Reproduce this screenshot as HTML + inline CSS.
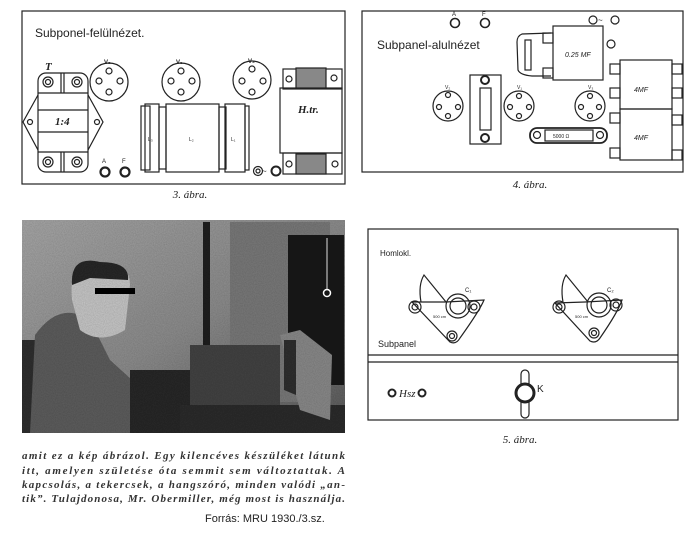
<!DOCTYPE html>
<html><head><meta charset="utf-8"><style>
html,body{margin:0;padding:0;background:#fff;}
svg{display:block;}
.hand{font-family:"Liberation Sans",sans-serif;}
.cap{font-family:"Liberation Serif",serif;font-style:italic;font-size:11px;}
</style></head><body>
<svg width="700" height="534" viewBox="0 0 700 534" xmlns="http://www.w3.org/2000/svg">
<defs>
<linearGradient id="wall" x1="0" y1="0" x2="1" y2="1">
<stop offset="0" stop-color="#a8a8a8"/><stop offset="0.5" stop-color="#8e8e8e"/><stop offset="1" stop-color="#5a5a5a"/>
</linearGradient>
<filter id="grain" x="0" y="0" width="100%" height="100%">
<feTurbulence type="fractalNoise" baseFrequency="0.9" numOctaves="2" seed="3" result="n"/>
<feColorMatrix in="n" type="matrix" values="0 0 0 0 0  0 0 0 0 0  0 0 0 0 0  0 0 0 0.35 0" result="g"/>
<feComposite in="g" in2="SourceGraphic" operator="in" result="gg"/>
<feMerge><feMergeNode in="SourceGraphic"/><feMergeNode in="gg"/></feMerge>
</filter>
</defs>
<g fill="none" stroke="#222" stroke-width="1.2">
<!-- FIG 3 -->
<rect x="22" y="11" width="323" height="173"/>
<polygon points="38,95 23,122 38,150 88,150 103,122 88,95"/>
<rect x="38" y="73" width="50" height="99" rx="8" fill="#fff"/>
<line x1="38" y1="93" x2="88" y2="93"/><line x1="38" y1="110" x2="88" y2="110"/>
<line x1="38" y1="132" x2="88" y2="132"/><line x1="38" y1="152" x2="88" y2="152"/>
<line x1="61" y1="73" x2="61" y2="93"/><line x1="64" y1="73" x2="64" y2="93"/>
<line x1="61" y1="152" x2="61" y2="172"/><line x1="64" y1="152" x2="64" y2="172"/>
<circle cx="48" cy="82" r="5"/><circle cx="48" cy="82" r="2.5"/>
<circle cx="77" cy="82" r="5"/><circle cx="77" cy="82" r="2.5"/>
<circle cx="48" cy="162" r="5"/><circle cx="48" cy="162" r="2.5"/>
<circle cx="77" cy="162" r="5"/><circle cx="77" cy="162" r="2.5"/>
<circle cx="30" cy="122" r="2.5"/><circle cx="97" cy="122" r="2.5"/>
<circle cx="109" cy="82" r="19"/><circle cx="109" cy="71" r="3"/><circle cx="99" cy="81" r="3"/><circle cx="120" cy="81" r="3"/><circle cx="109" cy="92" r="3"/>
<circle cx="181" cy="82" r="19"/><circle cx="181" cy="71" r="3"/><circle cx="171" cy="81" r="3"/><circle cx="192" cy="81" r="3"/><circle cx="181" cy="92" r="3"/>
<circle cx="252" cy="80" r="19"/><circle cx="252" cy="69" r="3"/><circle cx="242" cy="81" r="3"/><circle cx="263" cy="81" r="3"/><circle cx="252" cy="92" r="3"/>
<rect x="141" y="106" width="9" height="64"/><rect x="145" y="104" width="14" height="68"/>
<rect x="159" y="107" width="7" height="62"/>
<rect x="166" y="104" width="53" height="68"/>
<rect x="219" y="107" width="7" height="62"/><rect x="225" y="104" width="20" height="68"/><rect x="245" y="106" width="4" height="64"/>
<rect x="283" y="69" width="59" height="20"/>
<rect x="280" y="88" width="62" height="65"/>
<rect x="283" y="153" width="59" height="21"/>
<rect x="296" y="68" width="30" height="20" fill="#888"/>
<rect x="296" y="154" width="30" height="20" fill="#888"/>
<circle cx="289" cy="79" r="3"/><circle cx="334" cy="78" r="3"/><circle cx="289" cy="164" r="3"/><circle cx="335" cy="164" r="3"/>
<circle cx="105" cy="172" r="4.5" stroke-width="2.2"/><circle cx="125" cy="172" r="4.5" stroke-width="2.2"/>
<circle cx="258" cy="171" r="4.5"/><circle cx="258" cy="171" r="2"/><circle cx="276" cy="171" r="4.5" stroke-width="2"/>

<!-- FIG 4 -->
<rect x="362" y="11" width="321" height="161"/>
<circle cx="455" cy="23" r="4.5" stroke-width="1.6"/><circle cx="485" cy="23" r="4.5" stroke-width="1.6"/>
<circle cx="593" cy="20" r="4"/><circle cx="615" cy="20" r="4"/>
<rect x="553" y="26" width="50" height="54"/>
<path d="M551,33 L522,34 Q517,36 517,42 L518,70 Q520,75 532,76 L551,76"/>
<rect x="525" y="40" width="6" height="30"/>
<rect x="543" y="33" width="10" height="10"/><rect x="543" y="68" width="10" height="10"/>
<circle cx="611" cy="44" r="4"/>
<rect x="620" y="60" width="52" height="49"/><rect x="620" y="109" width="52" height="51"/>
<rect x="610" y="64" width="10" height="10"/><rect x="610" y="88" width="10" height="10"/><rect x="610" y="113" width="10" height="10"/><rect x="610" y="148" width="10" height="10"/>
<rect x="672" y="64" width="10" height="10"/><rect x="672" y="88" width="10" height="10"/><rect x="672" y="115" width="10" height="10"/><rect x="672" y="150" width="10" height="10"/>
<circle cx="448" cy="106" r="15"/><circle cx="448" cy="95" r="2.5"/><circle cx="439" cy="107" r="2.5"/><circle cx="458" cy="107" r="2.5"/><circle cx="448" cy="116" r="2.5"/>
<rect x="470" y="75" width="31" height="69"/>
<rect x="480" y="88" width="11" height="42"/><circle cx="485" cy="80" r="4" stroke-width="2"/><circle cx="485" cy="138" r="4" stroke-width="2"/>
<circle cx="519" cy="106" r="15"/><circle cx="519" cy="96" r="2.5"/><circle cx="510" cy="107" r="2.5"/><circle cx="529" cy="107" r="2.5"/><circle cx="519" cy="116" r="2.5"/>
<circle cx="590" cy="106" r="15"/><circle cx="590" cy="96" r="2.5"/><circle cx="581" cy="107" r="2.5"/><circle cx="599" cy="107" r="2.5"/><circle cx="590" cy="116" r="2.5"/>
<rect x="530" y="128" width="77" height="15" rx="7" stroke-width="1.8"/>
<rect x="545" y="130" width="48" height="11"/><circle cx="537" cy="135" r="3.5"/><circle cx="600" cy="135" r="3.5"/>

<!-- FIG 5 -->
<rect x="368" y="229" width="310" height="191"/>
<line x1="368" y1="355" x2="678" y2="355"/><line x1="368" y1="362" x2="678" y2="362"/>
<path d="M412,302 L446,302 L484,300 Q480,310 460,338 Q456,345 450,342 Z"/>
<path d="M421,302 Q418,285 424,275 L446,302"/>
<circle cx="415" cy="307" r="6"/><circle cx="415" cy="307" r="3"/>
<circle cx="474" cy="307" r="6"/><circle cx="474" cy="307" r="3"/>
<circle cx="458" cy="306" r="12"/><circle cx="458" cy="306" r="8"/>
<circle cx="452" cy="336" r="5"/><circle cx="452" cy="336" r="2.5"/>
<path d="M555,303 L585,302 L622,300 Q618,312 600,338 Q596,344 590,341 Z"/>
<path d="M563,302 Q560,285 566,275 L588,302"/>
<circle cx="559" cy="307" r="6"/><circle cx="559" cy="307" r="3"/>
<circle cx="616" cy="305" r="6"/><circle cx="616" cy="305" r="3"/>
<circle cx="599" cy="305" r="12"/><circle cx="599" cy="305" r="8"/>
<circle cx="594" cy="333" r="5"/><circle cx="594" cy="333" r="2.5"/>
<circle cx="392" cy="393" r="3.5" stroke-width="2"/><circle cx="422" cy="393" r="3.5" stroke-width="2"/>
<rect x="521" y="370" width="8" height="48" rx="4"/>
<circle cx="525" cy="393" r="9" stroke-width="3" fill="#fff"/>
</g>
<!-- photo -->
<g filter="url(#grain)">
<rect x="22" y="220" width="323" height="213" fill="url(#wall)"/>
<rect x="230" y="222" width="100" height="180" fill="#7a7a7a"/>
<rect x="288" y="235" width="56" height="150" fill="#1e1e1e"/>
<rect x="203" y="222" width="7" height="170" fill="#222"/>
<rect x="22" y="340" width="30" height="93" fill="#333"/>
<path d="M30,433 L35,335 Q60,300 90,320 L110,360 L165,410 L180,433 Z" fill="#5e5e5e"/>
<path d="M72,300 Q68,255 100,262 Q130,262 130,285 L125,330 Q100,345 80,330 Z" fill="#c8c8c8"/>
<path d="M72,285 Q70,255 100,262 Q130,262 128,280 L90,278 Z" fill="#2a2a2a"/>
<rect x="95" y="288" width="40" height="6" fill="#111"/>
<rect x="130" y="370" width="100" height="63" fill="#2a2a2a"/>
<rect x="190" y="345" width="90" height="60" fill="#444"/>
<rect x="180" y="405" width="165" height="28" fill="#2e2e2e"/>
<path d="M280,335 L300,330 L332,355 L330,420 L300,410 Z" fill="#8a8a8a"/>
<path d="M284,340 L296,340 L296,395 L284,390 Z" fill="#333"/>
</g>
<circle cx="327" cy="293" r="3.5" fill="none" stroke="#fff" stroke-width="1.5"/>
<line x1="327" y1="238" x2="327" y2="289" stroke="#ddd"/>
<!-- text -->
<g fill="#222">
<text x="35" y="37" class="hand" font-size="12">Subponel-felülnézet.</text>
<text x="45" y="70" class="cap" font-weight="bold" font-size="10">T</text>
<text x="104" y="64" class="hand" font-size="6" font-weight="bold">V₂</text>
<text x="176" y="64" class="hand" font-size="6" font-weight="bold">V₁</text>
<text x="248" y="63" class="hand" font-size="6" font-weight="bold">V₃</text>
<text x="55" y="125" class="cap" font-weight="bold" font-size="9">1:4</text>
<text x="148" y="141" class="hand" font-size="5">L₃</text>
<text x="189" y="141" class="hand" font-size="5">L₂</text>
<text x="231" y="141" class="hand" font-size="5">L₁</text>
<text x="298" y="113" class="cap" font-weight="bold" font-size="9">H.tr.</text>
<text x="102" y="163" class="hand" font-size="6">A</text>
<text x="122" y="163" class="hand" font-size="6">F</text>
<text x="262" y="174" class="hand" font-size="8">~</text>
<text x="190" y="198" class="cap" text-anchor="middle" font-size="11">3. ábra.</text>

<text x="377" y="49" class="hand" font-size="12">Subpanel-alulnézet</text>
<text x="452" y="16" class="hand" font-size="6">A</text>
<text x="482" y="16" class="hand" font-size="6">F</text>
<text x="598" y="23" class="hand" font-size="8">~</text>
<text x="565" y="57" class="hand" font-style="italic" font-size="7">0.25 MF</text>
<text x="634" y="92" class="hand" font-style="italic" font-size="7">4MF</text>
<text x="634" y="140" class="hand" font-style="italic" font-size="7">4MF</text>
<text x="445" y="89" class="hand" font-size="5">V₂</text>
<text x="517" y="89" class="hand" font-size="5">V₁</text>
<text x="588" y="89" class="hand" font-size="5">V₃</text>
<text x="553" y="138" class="hand" font-size="5">5000 Ω</text>
<text x="530" y="188" class="cap" text-anchor="middle" font-size="11">4. ábra.</text>

<text x="380" y="256" class="hand" font-size="8">Homlokl.</text>
<text x="378" y="347" class="hand" font-size="9">Subpanel</text>
<text x="465" y="292" class="hand" font-size="6">C₁</text>
<text x="607" y="292" class="hand" font-size="6">C₂</text>
<text x="433" y="318" class="hand" font-size="4">500 cm</text>
<text x="575" y="318" class="hand" font-size="4">500 cm</text>
<text x="399" y="397" class="cap" font-size="9">Hsz</text>
<text x="537" y="392" class="hand" font-size="10">K</text>
<text x="520" y="443" class="cap" text-anchor="middle" font-size="11">5. ábra.</text>

<g class="cap" font-weight="bold" font-size="10.5" fill="#333">
<text x="22" y="459" textLength="323" lengthAdjust="spacing">amit ez a kép ábrázol. Egy kilencéves készüléket látunk</text>
<text x="22" y="474" textLength="323" lengthAdjust="spacing">itt, amelyen születése óta semmit  sem  változtattak. A</text>
<text x="22" y="488" textLength="323" lengthAdjust="spacing">kapcsolás, a tekercsek, a hangszóró, minden valódi „an-</text>
<text x="22" y="502" textLength="323" lengthAdjust="spacing">tik”. Tulajdonosa, Mr. Obermiller, még most is használja.</text>
</g>
<text x="205" y="522" class="hand" font-size="11">Forrás: MRU 1930./3.sz.</text>
</g>
</svg>
</body></html>
